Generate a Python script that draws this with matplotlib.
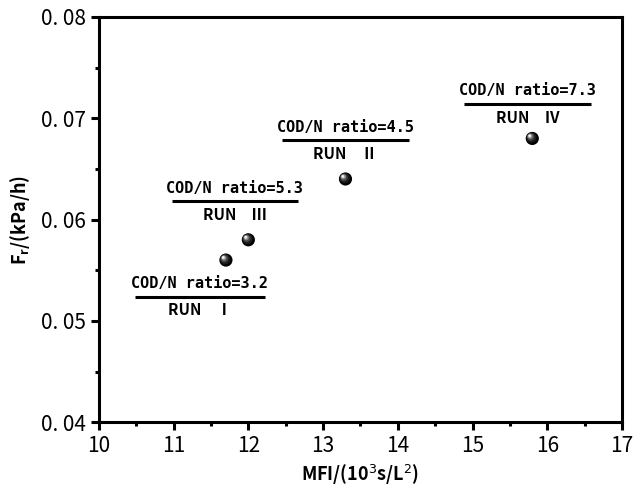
import matplotlib
matplotlib.use("Agg")
import matplotlib.pyplot as plt
import matplotlib.transforms as mtransforms
from matplotlib.ticker import MultipleLocator, FuncFormatter

# Data
mfi = [11.7, 12.0, 13.3, 15.8]
fr = [0.056, 0.058, 0.064, 0.068]

ratio_labels = ["COD/N ratio=3.2", "COD/N ratio=5.3", "COD/N ratio=4.5", "COD/N ratio=7.3"]
run_labels = ["RUN　Ⅰ", "RUN　Ⅲ", "RUN　Ⅱ", "RUN　Ⅳ"]
line_x0 = [10.48, 10.98, 12.45, 14.89]
line_x1 = [12.22, 12.66, 14.15, 16.59]
line_y = [0.0524, 0.0618, 0.0678, 0.0714]

CJK = ['Noto Sans CJK SC', 'DejaVu Sans']

fig = plt.figure(figsize=(6.34, 4.95), dpi=100)
ax = fig.add_axes([0.156, 0.147, 0.825, 0.819])
ax.set_xlim(10, 17)
ax.set_ylim(0.04, 0.08)

for s in ax.spines.values():
    s.set_linewidth(2.2)

ax.xaxis.set_major_locator(MultipleLocator(1))
ax.xaxis.set_minor_locator(MultipleLocator(0.5))
ax.yaxis.set_major_locator(MultipleLocator(0.01))
ax.yaxis.set_minor_locator(MultipleLocator(0.005))
ax.tick_params(which='major', direction='out', length=6, width=2.2, labelsize=15)
ax.tick_params(which='minor', direction='out', length=3, width=2.2)
ax.tick_params(top=False, right=False, which='both')
ax.yaxis.set_major_formatter(FuncFormatter(lambda v, p: ("%.2f" % v).replace(".", ". ")))

for lab in ax.get_xticklabels() + ax.get_yticklabels():
    lab.set_family(CJK)

ax.set_xlabel(r'MFI/(10$^{3}$s/L$^{2}$)', fontsize=13, fontweight='bold',
              family=CJK, labelpad=4)
ax.set_ylabel(r'$\mathregular{F_r}$/(kPa/h)', fontsize=13, fontweight='bold',
              family=CJK, labelpad=6)

# annotations
for x0, x1, y, rl, ru in zip(line_x0, line_x1, line_y, ratio_labels, run_labels):
    ax.plot([x0, x1], [y, y], color='black', lw=2.2, solid_capstyle='butt')
    xc = (x0 + x1) / 2
    ax.annotate(rl, (xc, y), xytext=(0, 4), textcoords='offset points',
                ha='center', va='bottom', fontsize=11, fontweight='bold',
                family='DejaVu Sans Mono')
    ax.annotate(ru, (xc, y), xytext=(0, -4), textcoords='offset points',
                ha='center', va='top', fontsize=11, fontweight='bold',
                family=CJK)

# shaded sphere markers
layers = [(90, '#000000', 0.0), (55, '#1a1a1a', 0.6), (30, '#444444', 1.1),
          (14, '#888888', 1.5), (5, '#dddddd', 1.8), (1.5, '#ffffff', 2.0)]
for s, c, off in layers:
    tr = mtransforms.offset_copy(ax.transData, fig=fig, x=-off, y=off, units='points')
    ax.scatter(mfi, fr, s=s, color=c, edgecolors='none', transform=tr, zorder=5)

fig.savefig("out.png", dpi=100)
